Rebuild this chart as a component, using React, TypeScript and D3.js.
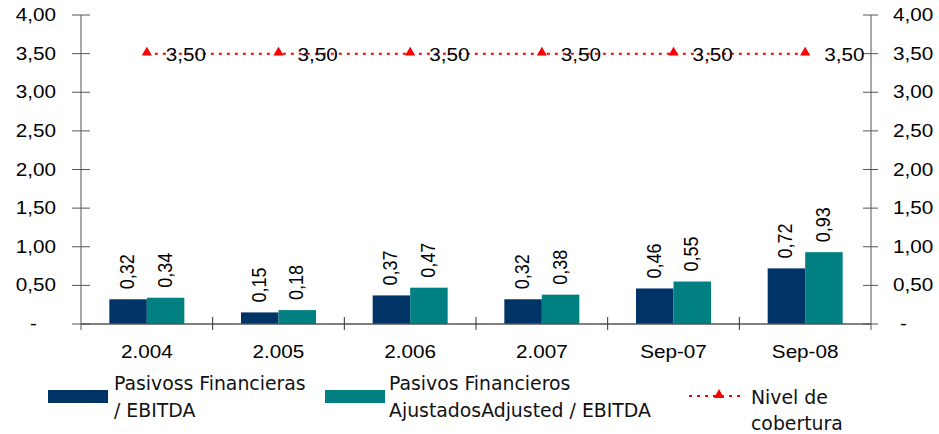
import React from "react";
import * as d3 from "d3";

const categories = ["2.004", "2.005", "2.006", "2.007", "Sep-07", "Sep-08"];
const pasivos = [0.32, 0.15, 0.37, 0.32, 0.46, 0.72];
const ajustados = [0.34, 0.18, 0.47, 0.38, 0.55, 0.93];
const nivel = [3.5, 3.5, 3.5, 3.5, 3.5, 3.5];
const yTicks = [0, 0.5, 1, 1.5, 2, 2.5, 3, 3.5, 4];
const seriesNames = ["Pasivoss Financieras|/ EBITDA", "Pasivos Financieros|AjustadosAdjusted / EBITDA", "Nivel de|cobertura"];

const W = 939, H = 434;
const left = 81, right = 871, top = 15, bottom = 324;
const SX = 1.15;
const fmt = (v: number) => (v === 0 ? "-" : d3.format(".2f")(v).replace(".", ","));
const axisFont = "'Liberation Sans', Arial, sans-serif";
const legFont = "'DejaVu Sans Condensed', 'DejaVu Sans', sans-serif";

function T({ x, y, anchor = "start", rot = 0, size = 18, children, font = axisFont, fill = "#000" }: any) {
  const tr = rot ? `translate(${x},${y}) rotate(${rot}) scale(1,${SX})` : `translate(${x},${y}) scale(${SX},1)`;
  return (
    <text transform={tr} textAnchor={anchor} fontFamily={font} fontSize={size} fill={fill}>
      {children}
    </text>
  );
}

export default function App() {
  const x = d3.scaleBand<string>().domain(categories).range([left, right]);
  const y = d3.scaleLinear().domain([0, 4]).range([bottom, top]);
  const bw = 37.5;
  const navy = "#003366", teal = "#008080", red = "#FF0000", axisC = "#555";
  const cx = (c: string) => (x(c) as number) + x.bandwidth() / 2;
  const line = d3.line<number>().x((_, i) => cx(categories[i])).y((d) => y(d));
  const tri = d3.symbol().type(d3.symbolTriangle).size(45)() as string;

  return (
    <svg width={W} height={H} style={{ position: "absolute", left: 0, top: 0, background: "#fff" }}>
      {/* axes */}
      <line x1={left} x2={left} y1={top} y2={bottom + 6} stroke={axisC} strokeWidth={1} />
      <line x1={right} x2={right} y1={top} y2={bottom + 6} stroke={axisC} strokeWidth={1} />
      {yTicks.map((t) => (
        <g key={t}>
          <line x1={left - 9} x2={left + 9} y1={y(t)} y2={y(t)} stroke={axisC} />
          <line x1={right - 8} x2={right + 7} y1={y(t)} y2={y(t)} stroke={axisC} />
          <T x={t === 0 ? 30 : 56} y={y(t) + 6} anchor={t === 0 ? "start" : "end"}>{fmt(t)}</T>
          <T x={t === 0 ? 900 : 893} y={y(t) + 6} anchor="start">{fmt(t)}</T>
        </g>
      ))}
      {/* bars */}
      {categories.map((c, i) => (
        <g key={c}>
          <rect x={cx(c) - bw} y={y(pasivos[i])} width={bw} height={bottom - y(pasivos[i])} fill={navy} />
          <rect x={cx(c)} y={y(ajustados[i])} width={bw} height={bottom - y(ajustados[i])} fill={teal} />
          <T x={cx(c) - bw / 2 + 6} y={y(pasivos[i]) - 10} rot={-90}>{fmt(pasivos[i])}</T>
          <T x={cx(c) + bw / 2 + 6} y={y(ajustados[i]) - 10} rot={-90}>{fmt(ajustados[i])}</T>
          <T x={cx(c)} y={358} anchor="middle">{c}</T>
        </g>
      ))}
      <line x1={left} x2={right} y1={bottom} y2={bottom} stroke={axisC} strokeWidth={1.5} />
      {categories.slice(1).map((c) => (
        <line key={c} x1={x(c) as number} x2={x(c) as number} y1={bottom - 7} y2={bottom + 6} stroke="#333" />
      ))}
      {/* line series */}
      <path d={line(nivel) as string} fill="none" stroke={red} strokeWidth={2} strokeDasharray="3,5" />
      {categories.map((c, i) => (
        <g key={c}>
          <path d={tri} transform={`translate(${cx(c)},${y(nivel[i]) - 1})`} fill={red} />
          <T x={cx(c) + 19} y={y(nivel[i]) + 7}>{fmt(nivel[i])}</T>
        </g>
      ))}
      {/* legend */}
      <rect x={48} y={390} width={60} height={13} fill={navy} />
      <rect x={325} y={390} width={60} height={13} fill={teal} />
      {seriesNames.map((s, k) => {
        const xs = [114, 389, 751][k];
        const ys = [k === 2 ? 404 : 390, k === 2 ? 430 : 417];
        return s.split("|").map((ln, j) => (
          <text key={k + "-" + j} transform={`translate(${xs},${ys[j]}) scale(1.08,1)`} fontFamily={legFont} fontSize={19.4} fill="#111">{ln}</text>
        ));
      })}
      <line x1={689} x2={745} y1={396} y2={396} stroke={red} strokeWidth={2} strokeDasharray="3,5" />
      <path d={tri} transform="translate(719,395)" fill={red} />
    </svg>
  );
}
